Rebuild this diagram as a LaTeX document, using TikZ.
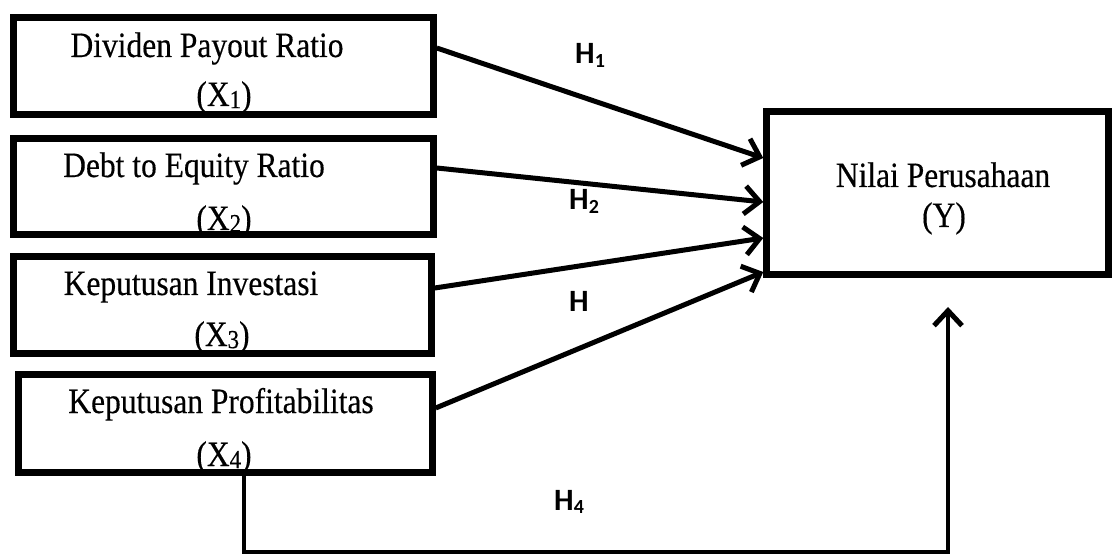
\documentclass[tikz,border=0pt]{standalone}
\usepackage{fontspec}
\usepackage{graphicx}
\setmainfont{Liberation Serif}
\newfontfamily\boxfont[FakeBold=0.35]{Liberation Serif}
\newfontfamily\hfont{Carlito}
\usetikzlibrary{arrows.meta,calc}

% tall serif text and its small index
\newcommand\tall[1]{\scalebox{1}[1.13]{#1}}
\newcommand\idx[1]{\raisebox{-0.06em}{\fontsize{23}{23}\selectfont #1}}
\newcommand\hyptext[1]{\fontsize{31}{31}\selectfont\hfont\bfseries H\raisebox{-0.12em}{\fontsize{20}{20}\selectfont #1}}

\begin{document}
\begin{tikzpicture}[x=1pt,y=1pt,
  varbox/.style={draw, line width=6.5pt, rectangle, inner sep=0pt},
  lbl/.style={font=\boxfont\fontsize{31.5}{36}\selectfont, anchor=base, inner sep=0pt},
  hyp/.style={anchor=base west, inner sep=0pt},
  link/.style={line width=5pt, -{Straight Barb[length=15pt,width=28pt]}},
  loop/.style={line width=4pt, -{Straight Barb[length=15pt,width=28pt,line width=5pt]}},
]
\useasboundingbox (0,0) rectangle (1115,557);

% independent variables
\node[varbox, minimum width=420pt, minimum height=97pt] (b1) at (223.5,491) {};
\node[varbox, minimum width=420pt, minimum height=96pt] (b2) at (223.5,370.5) {};
\node[varbox, minimum width=418pt, minimum height=97pt] (b3) at (222.5,252) {};
\node[varbox, minimum width=414pt, minimum height=98pt] (b4) at (225.5,133.5) {};

\node[lbl] (t1) at (207,500) {\tall{Dividen Payout Ratio}};
\node[lbl] (s1) at (224,451) {\tall{(X\idx{1})}};
\node[lbl] (t2) at (194,380) {\tall{Debt to Equity Ratio}};
\node[lbl] (s2) at (224,327) {\tall{(X\idx{2})}};
\node[lbl] (t3) at (191,262) {\tall{Keputusan Investasi}};
\node[lbl] (s3) at (222,211) {\tall{(X\idx{3})}};
\node[lbl] (t4) at (221,144) {\tall{Keputusan Profitabilitas}};
\node[lbl] (s4) at (224,91) {\tall{(X\idx{4})}};

% dependent variable
\node[varbox, minimum width=342pt, minimum height=163pt] (y) at (937.5,364) {};
\node[lbl] (ty) at (943,370) {\tall{Nilai Perusahaan}};
\node[lbl] (sy) at (944,330) {\tall{(Y)}};

% hypothesis paths
\draw[link] ([yshift=18pt]b1.east) -- ([yshift=35pt]y.west);
\draw[link] ([yshift=18.5pt]b2.east) -- ([yshift=-9pt]y.west);
\draw[link] ([yshift=17pt]b3.east) -- ([yshift=-45pt]y.west);
\draw[link] ([yshift=15.5pt]b4.east) -- ([yshift=-79pt]y.west);

\coordinate (base) at (948,5);
\coordinate (tip4) at (948,250);
\draw[loop] ([xshift=18.5pt]b4.south) |- (base) -- (tip4);

% hypothesis labels
\node[hyp] (h1) at (575,493) {\hyptext{1}};
\node[hyp] (h2) at (569,347) {\hyptext{2}};
\node[hyp] (h3) at (569,245) {\hyptext{}};
\node[hyp] (h4) at (554,47) {\hyptext{4}};
\end{tikzpicture}
\end{document}
